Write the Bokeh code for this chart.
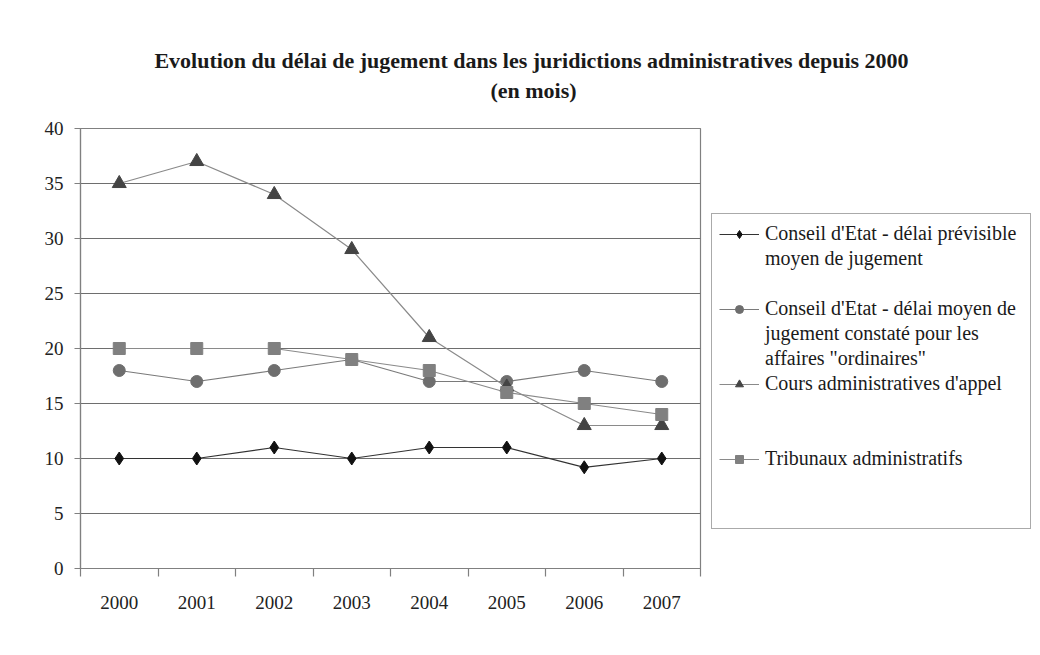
from bokeh.plotting import figure
from bokeh.models import Range1d, FixedTicker, Legend, LegendItem, Label
from bokeh.embed import file_html
from bokeh.resources import INLINE

years = [2000, 2001, 2002, 2003, 2004, 2005, 2006, 2007]
year_labels = ["2000", "2001", "2002", "2003", "2004", "2005", "2006", "2007"]
y_ticks = [0, 5, 10, 15, 20, 25, 30, 35, 40]

ce_previsible = [10, 10, 11, 10, 11, 11, 9.2, 10]
ce_ordinaires = [18, 17, 18, 19, 17, 17, 18, 17]
caa = [35, 37, 34, 29, 21, 16.5, 13, 13]
ta = [20, 20, 20, 19, 18, 16, 15, 14]

series_lines = [
    ["Conseil d'Etat - délai prévisible", "moyen de jugement"],
    ["Conseil d'Etat - délai moyen de", "jugement constaté pour les", "affaires \"ordinaires\""],
    ["Cours administratives d'appel"],
    ["Tribunaux administratifs"],
]
# empty legend rows after each entry (to reproduce the original spacing)
gap_rows = [1, 0, 2, 2]

title_line1 = "Evolution du délai de jugement dans les juridictions administratives depuis 2000"
title_line2 = "(en mois)"

FONT = "Liberation Serif"
FL, FT, FR, FB = 80, 128, 700, 568   # frame edges (px)
W, H = 1032, 639

p = figure(frame_width=FR - FL, frame_height=FB - FT,
           output_backend="svg", toolbar_location=None,
           x_range=Range1d(1999.5, 2007.5), y_range=Range1d(0, 40),
           min_border_left=FL, min_border_top=FT, min_border_bottom=H - FB,
           min_border_right=W - FR)

p.background_fill_color = "white"
p.border_fill_color = "white"
p.outline_line_color = "#808080"
p.outline_line_width = 1.2

# titles (placed in the panel above the plot area)
p.add_layout(Label(x=453, y=38, x_units="screen", y_units="screen", text=title_line2,
                   text_font=FONT, text_font_size="22px", text_font_style="bold",
                   text_align="center", text_baseline="middle", text_color="#1a1a1a"), "above")
p.add_layout(Label(x=451, y=43, x_units="screen", y_units="screen", text=title_line1,
                   text_font=FONT, text_font_size="22px", text_font_style="bold",
                   text_align="center", text_baseline="middle", text_color="#1a1a1a"), "above")

# grid
p.xgrid.grid_line_color = None
p.ygrid.grid_line_color = "#6e6e6e"
p.ygrid.grid_line_width = 1.2
p.ygrid.ticker = FixedTicker(ticks=y_ticks)

# axes
p.xaxis.ticker = FixedTicker(ticks=years, minor_ticks=[y - 0.5 for y in years] + [years[-1] + 0.5])
p.xaxis.major_label_overrides = {y: l for y, l in zip(years, year_labels)}
p.xaxis.major_tick_line_color = None
p.xaxis.major_tick_out = 8
p.xaxis.major_tick_in = 0
p.xaxis.minor_tick_out = 8
p.xaxis.minor_tick_in = 0
p.xaxis.minor_tick_line_color = "#808080"
p.xaxis.minor_tick_line_width = 1.2
p.xaxis.major_label_standoff = 19
p.xaxis.axis_line_color = "#808080"
p.xaxis.axis_line_width = 1.2

p.yaxis.ticker = FixedTicker(ticks=y_ticks)
p.yaxis.major_tick_out = 6
p.yaxis.major_tick_in = 0
p.yaxis.minor_tick_line_color = None
p.yaxis.major_tick_line_color = "#808080"
p.yaxis.major_tick_line_width = 1.2
p.yaxis.axis_line_color = "#808080"
p.yaxis.axis_line_width = 1.2
p.yaxis.major_label_standoff = 11

for ax in (p.xaxis[0], p.yaxis[0]):
    ax.major_label_text_font = FONT
    ax.major_label_text_font_size = "19px"
    ax.major_label_text_color = "#222222"

renderers = []
l1 = p.line(years, ce_previsible, line_color="#333333", line_width=1.2)
m1 = p.scatter(years, ce_previsible, marker="diamond", size=13, fill_color="#111111", line_color="#111111")
renderers.append([l1, m1])

l2 = p.line(years, ce_ordinaires, line_color="#7a7a7a", line_width=1.2)
m2 = p.scatter(years, ce_ordinaires, marker="circle", size=12, fill_color="#6e6e6e", line_color="#6e6e6e")
renderers.append([l2, m2])

l3 = p.line(years, caa, line_color="#8a8a8a", line_width=1.2)
m3 = p.scatter(years, caa, marker="triangle", size=14, fill_color="#444444", line_color="#444444")
renderers.append([l3, m3])

l4 = p.line(years, ta, line_color="#8a8a8a", line_width=1.2)
m4 = p.scatter(years, ta, marker="square", size=12, fill_color="#808080", line_color="#808080")
renderers.append([l4, m4])

# legend: one row per text line, glyph on the first line of each entry
blank = p.line(x=[], y=[], line_alpha=0)
items = []
for lines, rend, gaps in zip(series_lines, renderers, gap_rows):
    items.append(LegendItem(label=lines[0], renderers=rend))
    for extra in lines[1:]:
        items.append(LegendItem(label=extra, renderers=[blank]))
    for _ in range(gaps):
        items.append(LegendItem(label=" ", renderers=[blank]))

legend = Legend(items=items, location=(11, 39), margin=0, padding=7,
                glyph_width=40, glyph_height=20, label_standoff=6,
                label_width=258, label_height=25, spacing=0,
                label_text_font=FONT, label_text_font_size="20px",
                label_text_color="#1a1a1a",
                border_line_color="#555555", border_line_width=1.2,
                background_fill_color="white", background_fill_alpha=1)
p.add_layout(legend, "right")

open("out.html", "w").write(file_html(p, INLINE))
